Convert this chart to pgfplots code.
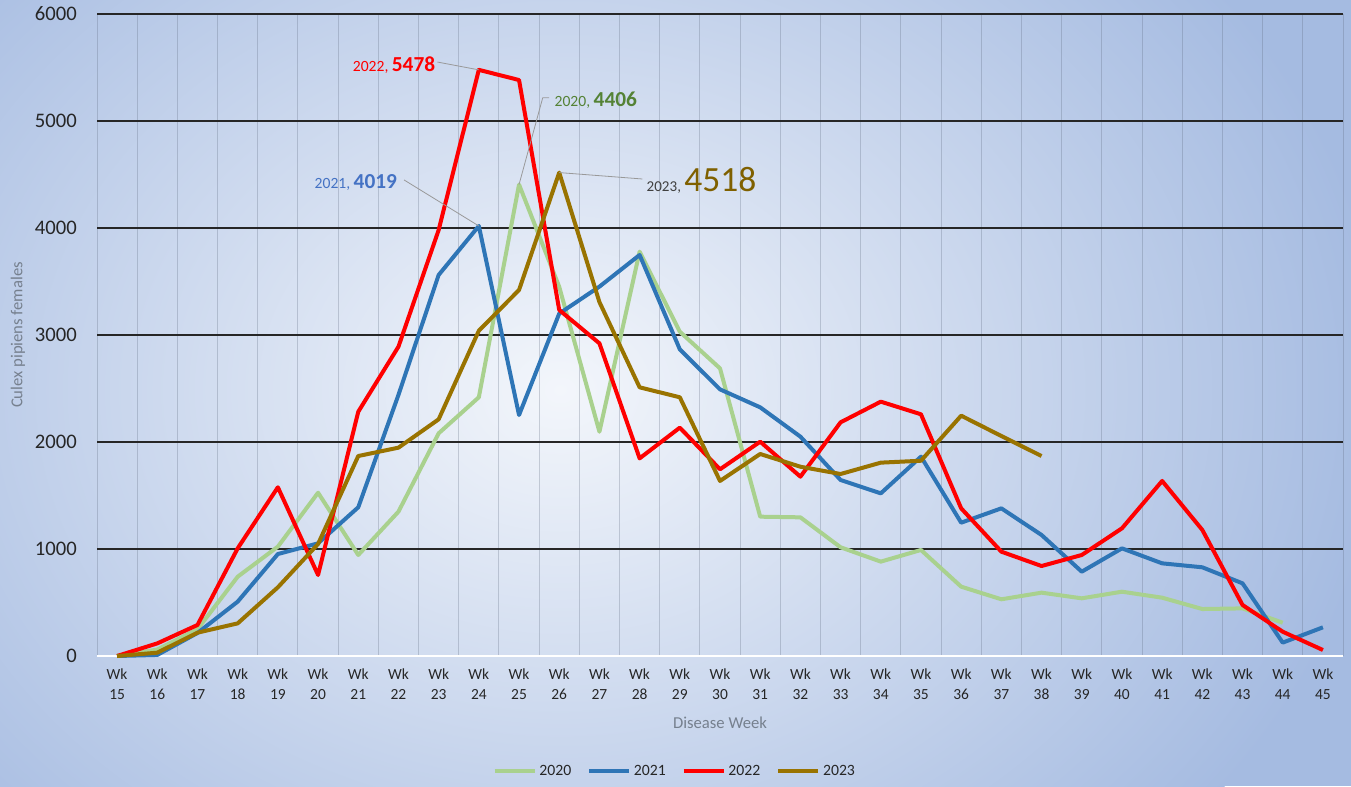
\documentclass[border=0pt]{standalone}
\usepackage{pgfplots}
\pgfplotsset{compat=1.18}
\usepackage{fontspec}
\setmainfont{Carlito}
\definecolor{c2020}{RGB}{169,209,142}
\definecolor{c2021}{RGB}{46,117,182}
\definecolor{c2022}{RGB}{255,0,0}
\definecolor{c2023}{RGB}{153,115,0}
\definecolor{bgin}{RGB}{243,246,251}
\definecolor{bgout}{RGB}{165,187,225}
\definecolor{lab2020}{RGB}{84,130,53}
\definecolor{lab2021}{RGB}{68,114,196}
\definecolor{lab2023}{RGB}{127,96,0}
\definecolor{axtitle}{RGB}{118,128,142}
\begin{document}
\begin{tikzpicture}[x=1pt,y=1pt]
\path[use as bounding box] (0,0) rectangle (1013.25,589.5);
\begin{scope}
\clip (0,0) rectangle (1013.25,589.5);
\fill[bgout] (0,0) rectangle (1013.25,589.5);
\shade[inner color=bgin, outer color=bgout] (420,297) ellipse (620 and 500);
\end{scope}
\begin{axis}[
  at={(72.75pt,97.5pt)}, anchor=south west,
  scale only axis, width=934.5pt, height=481.5pt,
  clip=false,
  xmin=14.5, xmax=45.5, ymin=0, ymax=6000,
  xtick={15,...,45},
  xticklabel={Wk\\\pgfmathprintnumber{\tick}},
  minor xtick={14.5,15.5,...,45.5},
  xminorgrids,
  minor grid style={draw=black!45!bgout, opacity=0.28, line width=0.75pt},
  ytick={1000,2000,...,6000},
  extra y ticks={0},
  extra y tick style={major grid style={draw=white, line width=1pt}},
  ymajorgrids,
  major grid style={draw=black!85, line width=0.8pt},
  axis line style={draw=none},
  major tick length=0pt, minor tick length=0pt,
  /pgf/number format/assume math mode=true,
  /pgf/number format/1000 sep={},
  yticklabel style={font=\fontsize{15.5}{18}\selectfont, text=black!85, inner sep=0pt, xshift=-15pt},
  xticklabel style={font=\fontsize{11.6}{15}\selectfont, text=black!85, align=center, inner sep=0pt, anchor=north, yshift=-9.5pt},
  xlabel={Disease Week},
  xlabel style={at={(axis description cs:0.5,-0.104)}, anchor=center, font=\fontsize{12.5}{15}\selectfont, text=axtitle},
  ylabel={Culex pipiens females},
  ylabel style={at={(axis description cs:-0.0634,0.5)}, anchor=center, rotate=0, font=\fontsize{12.5}{15}\selectfont, text=axtitle},
  legend style={at={(axis description cs:0.464,-0.179)}, anchor=center, draw=none, fill=none,
    legend columns=4, font=\fontsize{11.8}{14}\selectfont, text=black!85,
    /tikz/every even column/.append style={column sep=10pt}},
  legend image code/.code={\draw[#1] (0pt,0pt) -- (30pt,0pt);},
  every axis plot/.append style={line width=3pt, line join=round, no markers},
]
\addplot[c2020] coordinates {(15,0) (16,60) (17,250) (18,741) (19,1022) (20,1526) (21,944) (22,1349) (23,2081) (24,2418) (25,4406) (26,3450) (27,2096) (28,3779) (29,3031) (30,2688) (31,1302) (32,1296) (33,1016) (34,882) (35,991) (36,648) (37,530) (38,592) (39,539) (40,601) (41,545) (42,439) (43,445) (44,311)};
\addlegendentry{2020}
\addplot[c2021] coordinates {(15,0) (16,10) (17,215) (18,508) (19,953) (20,1053) (21,1390) (22,2440) (23,3561) (24,4019) (25,2252) (26,3200) (27,3452) (28,3748) (29,2866) (30,2492) (31,2324) (32,2050) (33,1645) (34,1520) (35,1863) (36,1246) (37,1380) (38,1131) (39,788) (40,1006) (41,866) (42,829) (43,679) (44,125) (45,268)};
\addlegendentry{2021}
\addplot[c2022] coordinates {(15,0) (16,118) (17,290) (18,1006) (19,1577) (20,757) (21,2283) (22,2891) (23,3981) (24,5478) (25,5383) (26,3234) (27,2922) (28,1847) (29,2134) (30,1745) (31,2003) (32,1676) (33,2184) (34,2377) (35,2259) (36,1380) (37,975) (38,841) (39,944) (40,1193) (41,1636) (42,1178) (43,477) (44,227) (45,56)};
\addlegendentry{2022}
\addplot[c2023] coordinates {(15,0) (16,31) (17,218) (18,305) (19,642) (20,1047) (21,1869) (22,1947) (23,2212) (24,3040) (25,3421) (26,4518) (27,3308) (28,2511) (29,2418) (30,1636) (31,1888) (32,1769) (33,1701) (34,1807) (35,1825) (36,2246) (37,2056) (38,1869)};
\addlegendentry{2023}
% data labels with leader lines
\draw[black!40, line width=0.6pt] (axis cs:22.97,5551) -- (axis cs:24,5478);
\node[anchor=base east, inner sep=0pt, text=c2022] at (axis cs:22.92,5467) {\fontsize{11.7}{14}\selectfont 2022, {\fontsize{16}{19}\selectfont\bfseries 5478}};
\draw[black!40, line width=0.6pt] (axis cs:22.14,4449) -- (axis cs:24,4019);
\node[anchor=base east, inner sep=0pt, text=lab2021] at (axis cs:21.97,4371) {\fontsize{11.7}{14}\selectfont 2021, {\fontsize{16}{19}\selectfont\bfseries 4019}};
\draw[black!40, line width=0.6pt] (axis cs:25.75,5218) -- (axis cs:25.59,5218) -- (axis cs:25,4406);
\node[anchor=base west, inner sep=0pt, text=lab2020] at (axis cs:25.88,5140) {\fontsize{11.7}{14}\selectfont 2020, {\fontsize{16}{19}\selectfont\bfseries 4406}};
\draw[black!40, line width=0.6pt] (axis cs:28.07,4458) -- (axis cs:26,4518);
\node[anchor=base west, inner sep=0pt] at (axis cs:28.17,4339) {\fontsize{11.3}{14}\selectfont\color{black!75}2023, {\fontsize{26.6}{30}\selectfont\color{lab2023}4518}};
\end{axis}
\end{tikzpicture}
\end{document}
